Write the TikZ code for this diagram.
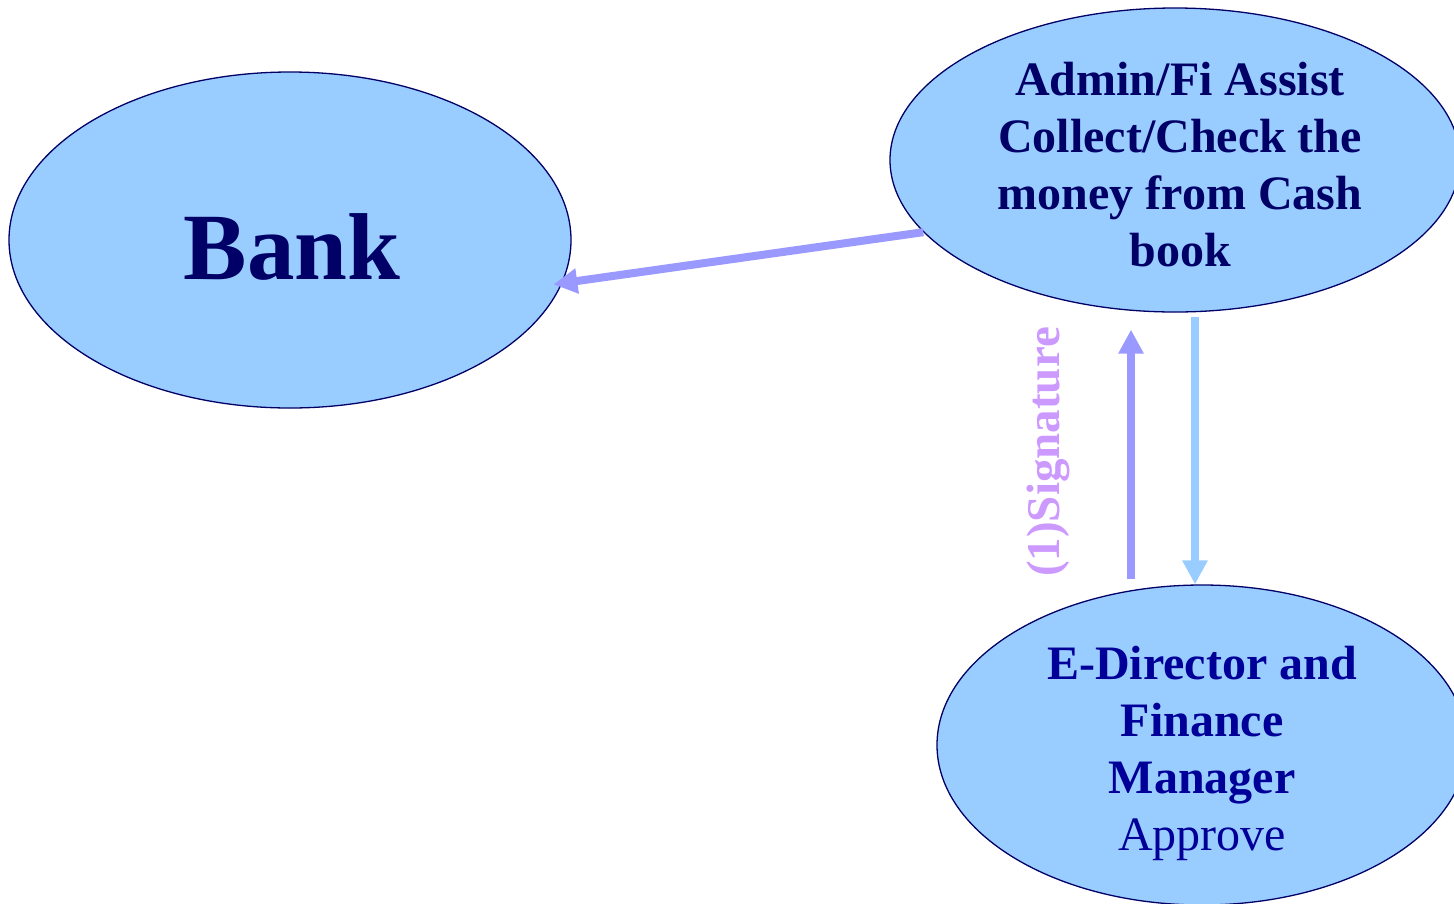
\documentclass[tikz,border=0pt]{standalone}
\usepackage{fontspec}
\setmainfont{Liberation Serif}
\usetikzlibrary{shapes.geometric,arrows.meta}
\definecolor{efill}{HTML}{99CCFF}
\definecolor{edraw}{HTML}{000066}
\definecolor{navy}{HTML}{000066}
\definecolor{darkblue}{HTML}{000099}
\definecolor{violetarrow}{HTML}{9999FF}
\definecolor{lightarrow}{HTML}{99CCFF}
\definecolor{siglabel}{HTML}{CC99FF}
\tikzset{
  bubble/.style={ellipse, draw=edraw, line width=1.3pt, fill=efill, inner sep=0pt},
  bubbletext/.style={inner sep=0pt, align=center},
  flowarrow/.style={line width=8pt, -{Triangle[length=24pt,width=24pt]}},
}
\begin{document}
\begin{tikzpicture}[x=1pt,y=-1pt]
\useasboundingbox (0,0) rectangle (1454,903);
\node[bubble, minimum width=562pt, minimum height=336pt] (bank) at (290,240) {};
\node[bubble, minimum width=570pt, minimum height=304pt] (admin) at (1175,160) {};
\node[bubble, minimum width=530pt, minimum height=320pt] (edir) at (1202,745) {};
\node[bubbletext, text=navy, font=\fontsize{95}{100}\selectfont\bfseries] (banktext) at (292,247) {Bank};
\node[bubbletext, text=navy, font=\fontsize{48}{57}\selectfont\bfseries] (admintext) at (1180,165)
      {Admin/Fi Assist\\Collect/Check the\\money from Cash\\book};
\node[bubbletext, text=darkblue, font=\fontsize{48}{57}\selectfont] (edirtext) at (1202,753)
      {\textbf{E-Director and}\\\textbf{Finance}\\\textbf{Manager}\\Approve};
\coordinate (upx) at (1131,0);
\coordinate (downx) at (1195,0);
\draw[flowarrow, violetarrow, shorten >=-9pt] (admin.196) -- (bank.-9);
\draw[flowarrow, violetarrow] ([yshift=5pt]edir.north -| upx) -- ([yshift=-17pt]admin.south -| upx);
\draw[flowarrow, lightarrow] ([yshift=-4pt]admin.south -| downx) -- (edir.north -| downx);
\node[rotate=90, text=siglabel, font=\fontsize{47}{50}\selectfont\bfseries, inner sep=0pt]
  (sig) at (1048,452) {(1)Signature};
\end{tikzpicture}
\end{document}
